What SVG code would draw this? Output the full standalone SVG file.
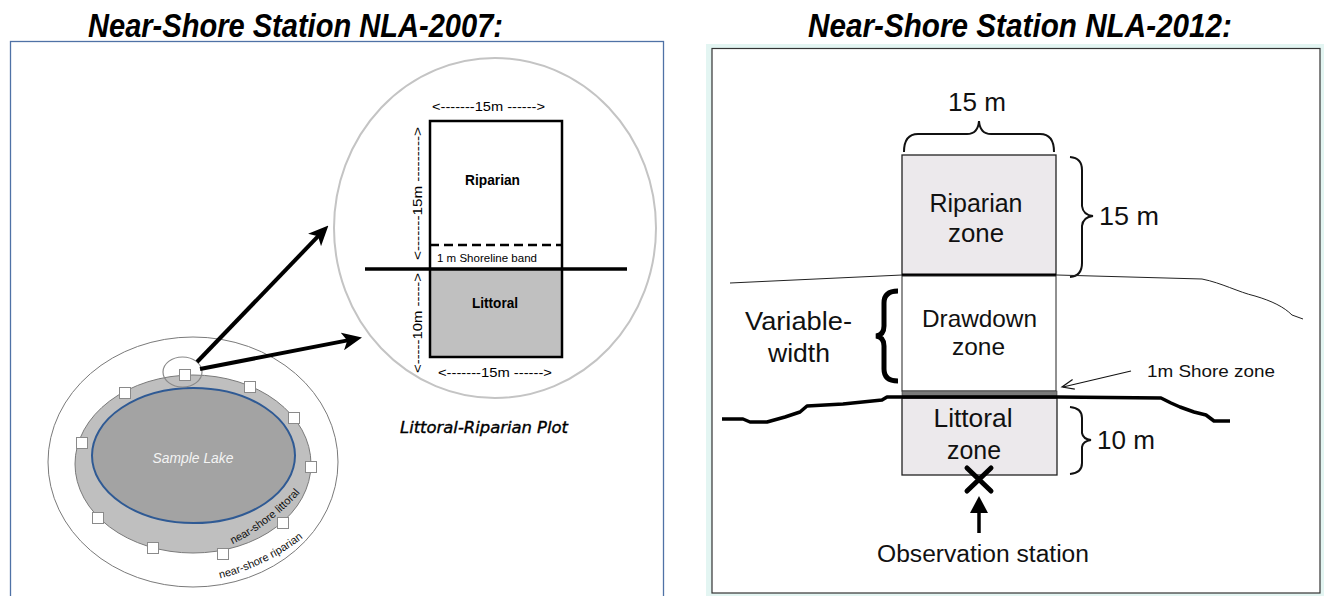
<svg xmlns="http://www.w3.org/2000/svg" width="1324" height="596" viewBox="0 0 1324 596">
<style>
.title{font-family:"Liberation Sans",Arial,sans-serif;font-weight:bold;font-style:italic;font-size:33px;fill:#000}
.cal{font-family:"Liberation Sans",Arial,sans-serif;fill:#000}
.ar{font-family:"Liberation Sans",Arial,sans-serif;fill:#111}
.sq{fill:#fff;stroke:#8a8a8a;stroke-width:1}
.zone{fill:#ece9ec;stroke:#222;stroke-width:1.3}
</style>
<defs>
<marker id="bigHead" markerUnits="userSpaceOnUse" viewBox="0 0 20 18" markerWidth="20" markerHeight="18" refX="8" refY="9" orient="auto">
<path d="M0,0 L20,9 L0,18 L5,9 Z" fill="#000"/>
</marker>
<path id="litPath" d="M 227 547 Q 272 526 304 488"/>
<path id="ripPath" d="M 214 580 Q 266 568 308 534"/>
</defs>
<rect x="0" y="0" width="1324" height="596" fill="#fff"/>

<g id="titles">
<text class="title" x="88" y="37" textLength="415" lengthAdjust="spacingAndGlyphs">Near-Shore Station NLA-2007:</text>
<text class="title" x="808" y="37" textLength="424" lengthAdjust="spacingAndGlyphs">Near-Shore Station NLA-2012:</text>
</g>

<!-- LEFT PANEL -->
<g id="left-frame">
<rect x="10.5" y="41.5" width="653" height="600" fill="#fff" stroke="#4f72a6" stroke-width="1.3"/>
</g>

<g id="lake">
<ellipse cx="193" cy="462" rx="145" ry="125" fill="#fff" stroke="#7a7a7a" stroke-width="1"/>
<ellipse cx="193" cy="464" rx="118" ry="89" fill="#bfbfbf" stroke="#7a7a7a" stroke-width="1"/>
<ellipse cx="193.5" cy="455.5" rx="101.5" ry="67.5" fill="#a3a3a3" stroke="#2f5a94" stroke-width="2"/>
<text class="cal" x="193" y="463" text-anchor="middle" font-size="15" font-style="italic" style="fill:#f4f4f4" textLength="81" lengthAdjust="spacingAndGlyphs">Sample Lake</text>
<text class="ar" font-size="11"><textPath href="#litPath" startOffset="50%" text-anchor="middle">near-shore littoral</textPath></text>
<text class="ar" font-size="11"><textPath href="#ripPath" startOffset="50%" text-anchor="middle">near-shore riparian</textPath></text>
</g>

<g id="stations">
<rect class="sq" x="179.5" y="369.5" width="11" height="11"/>
<rect class="sq" x="119.5" y="387.5" width="11" height="11"/>
<rect class="sq" x="244.5" y="381.5" width="11" height="11"/>
<rect class="sq" x="288.5" y="412.5" width="11" height="11"/>
<rect class="sq" x="76.5" y="437.5" width="11" height="11"/>
<rect class="sq" x="305.5" y="461.5" width="11" height="11"/>
<rect class="sq" x="92.5" y="512.5" width="11" height="11"/>
<rect class="sq" x="277.5" y="517.5" width="11" height="11"/>
<rect class="sq" x="147.5" y="542.5" width="11" height="11"/>
<rect class="sq" x="217.5" y="548.5" width="11" height="11"/>
</g>

<g id="callout">
<ellipse cx="182.5" cy="372" rx="19.5" ry="15" fill="none" stroke="#8a8a8a" stroke-width="1.2"/>
</g>

<g id="plot">
<ellipse cx="495" cy="228" rx="161" ry="170" fill="#fff" stroke="#c4c4c4" stroke-width="2"/>
<rect x="430" y="269" width="132" height="88" fill="#c0c0c0"/>
<rect x="430" y="121" width="132" height="236" fill="none" stroke="#000" stroke-width="2.5"/>
<line x1="430" y1="245" x2="562" y2="245" stroke="#000" stroke-width="2.5" stroke-dasharray="9,5"/>
<line x1="365" y1="269" x2="627" y2="269" stroke="#000" stroke-width="3.5"/>
<text class="cal" x="432" y="111" font-size="13" textLength="113" lengthAdjust="spacingAndGlyphs">&lt;-------15m ------&gt;</text>
<text class="cal" x="492.5" y="185" font-size="14" font-weight="bold" text-anchor="middle" textLength="55" lengthAdjust="spacingAndGlyphs">Riparian</text>
<text class="cal" x="437" y="262" font-size="11" textLength="100" lengthAdjust="spacingAndGlyphs">1 m Shoreline band</text>
<text class="cal" x="495" y="308" font-size="14" font-weight="bold" text-anchor="middle" textLength="46" lengthAdjust="spacingAndGlyphs">Littoral</text>
<text class="cal" x="438" y="377" font-size="13" textLength="114" lengthAdjust="spacingAndGlyphs">&lt;-------15m ------&gt;</text>
<text class="cal" transform="translate(421.5 260) rotate(-90)" font-size="13" textLength="133" lengthAdjust="spacingAndGlyphs">&lt;-------15m ---------&gt;</text>
<text class="cal" transform="translate(421.5 373) rotate(-90)" font-size="13" textLength="100" lengthAdjust="spacingAndGlyphs">&lt;-----10m -----&gt;</text>
<text x="400" y="433" font-family="'DejaVu Sans',sans-serif" font-style="italic" font-size="15" fill="#000" stroke="#000" stroke-width="0.35" textLength="168" lengthAdjust="spacingAndGlyphs">Littoral-Riparian Plot</text>
</g>

<!-- RIGHT PANEL -->
<g id="right-frame">
<rect x="706" y="44" width="618" height="552" fill="#e3f5f2"/>
<rect x="712" y="48.5" width="608" height="544.5" fill="#fff" stroke="#333" stroke-width="1.2"/>
</g>

<g id="riparian-zone">
<rect class="zone" x="902" y="155" width="154" height="120"/>
<text class="ar" x="976" y="212" font-size="25" text-anchor="middle" textLength="93" lengthAdjust="spacingAndGlyphs">Riparian</text>
<text class="ar" x="976" y="242" font-size="25" text-anchor="middle" textLength="56" lengthAdjust="spacingAndGlyphs">zone</text>
<path d="M 904 152 Q 904 134 918 134 L 967 134 Q 978 134 979 121 Q 980 134 991 134 L 1040 134 Q 1054 134 1054 152" fill="none" stroke="#111" stroke-width="2"/>
<text class="ar" x="977" y="111" font-size="26" text-anchor="middle" textLength="58" lengthAdjust="spacingAndGlyphs">15 m</text>
<path d="M 1070 157 Q 1082 158 1082 170 L 1082 206 Q 1083 215 1093 216 Q 1083 217 1082 226 L 1082 263 Q 1082 276 1070 277" fill="none" stroke="#111" stroke-width="2"/>
<text class="ar" x="1099" y="225" font-size="26" textLength="60" lengthAdjust="spacingAndGlyphs">15 m</text>
</g>

<g id="shoreline">
<path d="M 730 283 L 902 275 L 1057 275 L 1202 279 C 1222 283, 1238 292, 1255 296 C 1272 301, 1284 307, 1292 315 L 1303 319" fill="none" stroke="#222" stroke-width="1"/>
<line x1="902" y1="275" x2="1056" y2="275" stroke="#000" stroke-width="3"/>
</g>

<g id="drawdown-zone">
<rect x="902" y="276" width="154" height="115" fill="#fff" stroke="#222" stroke-width="1"/>
<text class="ar" x="979.5" y="327" font-size="24" text-anchor="middle" textLength="115" lengthAdjust="spacingAndGlyphs">Drawdown</text>
<text class="ar" x="978.5" y="355" font-size="24" text-anchor="middle" textLength="53" lengthAdjust="spacingAndGlyphs">zone</text>
<path d="M 898 291 Q 884 291 884 303 L 884 326 Q 884 335 876 336 Q 884 337 884 346 L 884 369 Q 884 381 898 381" fill="none" stroke="#000" stroke-width="5"/>
<text class="ar" x="798.5" y="330" font-size="26" text-anchor="middle" textLength="107" lengthAdjust="spacingAndGlyphs">Variable-</text>
<text class="ar" x="799" y="362" font-size="26" text-anchor="middle" textLength="62" lengthAdjust="spacingAndGlyphs">width</text>
</g>

<g id="shore-zone">
<rect x="902" y="391" width="155" height="5" fill="#7a7a7a" stroke="#333" stroke-width="0.6"/>
<text class="ar" x="1147" y="377" font-size="17" textLength="128" lengthAdjust="spacingAndGlyphs">1m Shore zone</text>
</g>

<g id="littoral-zone">
<rect class="zone" x="902" y="398" width="155" height="77"/>
<text class="ar" x="973" y="427" font-size="25" text-anchor="middle" textLength="79" lengthAdjust="spacingAndGlyphs">Littoral</text>
<text class="ar" x="974" y="459" font-size="25" text-anchor="middle" textLength="54" lengthAdjust="spacingAndGlyphs">zone</text>
<path d="M 1070 407 Q 1082 408 1082 418 L 1082 433 Q 1083 439 1091 440 Q 1083 441 1082 447 L 1082 463 Q 1082 473 1070 474" fill="none" stroke="#111" stroke-width="2"/>
<text class="ar" x="1097" y="449" font-size="26" textLength="58" lengthAdjust="spacingAndGlyphs">10 m</text>
</g>

<g id="ground">
<polyline points="722,419 743,419 750,422 767,422 785,417 800,412 807,406 843,404 882,400 887,397 902,397 1058,397 1161,398 1171,403 1180,407 1194,412 1206,415 1214,421 1230,421" fill="none" stroke="#000" stroke-width="3.5" stroke-linejoin="round"/>
</g>

<g id="observation-station">
<path d="M 967 468 L 991 491 M 991 468 L 967 491" stroke="#000" stroke-width="5" stroke-linecap="round"/>
<text class="ar" x="983" y="562" font-size="23" text-anchor="middle" textLength="212" lengthAdjust="spacingAndGlyphs">Observation station</text>
</g>

<g id="connectors">
<line x1="197" y1="362" x2="320.1" y2="234.2" stroke="#000" stroke-width="4" marker-end="url(#bigHead)"/>
<line x1="200" y1="369" x2="350.2" y2="339.9" stroke="#000" stroke-width="4" marker-end="url(#bigHead)"/>
<line x1="1131" y1="371" x2="1063" y2="387" stroke="#111" stroke-width="1.2"/>
<polyline points="1072.6,379.4 1062,387 1074.8,389.2" fill="none" stroke="#111" stroke-width="1.2"/>
<line x1="979" y1="533" x2="979" y2="510" stroke="#000" stroke-width="3.5"/>
<polygon points="979,496 970,513 988,513" fill="#000"/>
</g>
</svg>
